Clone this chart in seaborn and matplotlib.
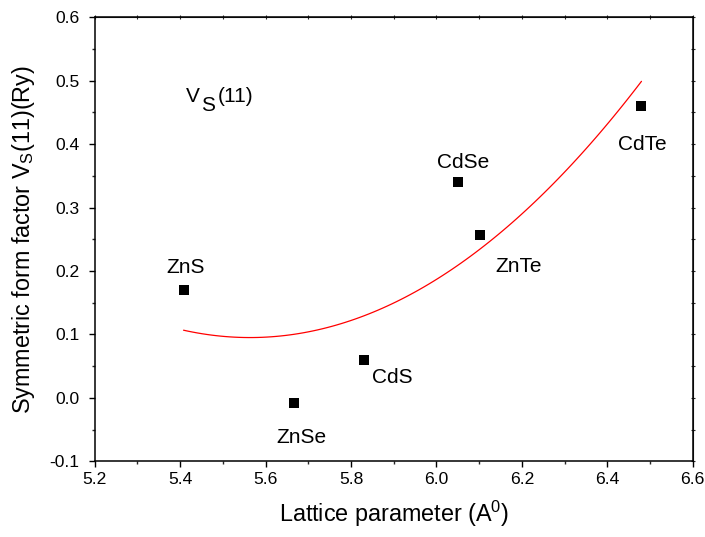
import matplotlib
matplotlib.use("Agg")
import matplotlib.pyplot as plt
from matplotlib.ticker import MultipleLocator
import numpy as np
import pandas as pd
import seaborn as sns

# Data
compounds = ["ZnS", "ZnSe", "CdS", "CdSe", "ZnTe", "CdTe"]
lattice = [5.408, 5.667, 5.831, 6.051, 6.103, 6.480]
vs11 = [0.1705, -0.0076, 0.060, 0.341, 0.256, 0.460]
# Label anchor positions (data coords) for each compound name
label_x = [5.413, 5.683, 5.849, 6.063, 6.193, 6.483]
label_y = [0.197, -0.071, 0.024, 0.362, 0.199, 0.390]
label_ha = ["center", "center", "left", "center", "center", "center"]

df = pd.DataFrame({"compound": compounds, "a": lattice, "vs": vs11})

sns.set_style("ticks")
plt.rcParams["font.family"] = ["Liberation Sans", "DejaVu Sans"]
plt.rcParams["mathtext.fontset"] = "custom"
plt.rcParams["mathtext.rm"] = "Liberation Sans"
plt.rcParams["mathtext.it"] = "Liberation Sans:italic"
plt.rcParams["mathtext.default"] = "regular"

fig = plt.figure(figsize=(7.05, 5.37), dpi=100)
ax = fig.add_axes([0.1343, 0.1410, 0.8483, 0.8268])

# quadratic fit (red curve), limited to data range
sns.regplot(data=df, x="a", y="vs", order=2, ci=None, scatter=False,
            truncate=True, color="red", line_kws={"lw": 0.9}, ax=ax)
sns.scatterplot(data=df, x="a", y="vs", marker="s", s=52, color="black",
                edgecolor="black", linewidth=0, ax=ax, zorder=3)

for name, lx, ly, ha in zip(compounds, label_x, label_y, label_ha):
    ax.text(lx, ly, name, fontsize=15, ha=ha, va="baseline", color="black")

# "V_S(11)" panel label with full-size lowered S
vx, vy = 5.413, 0.467
ax.annotate("V", xy=(vx, vy), xycoords="data", fontsize=15,
            ha="left", va="baseline", color="black")
ax.annotate("S", xy=(vx, vy), xycoords="data", xytext=(11.2, -6.8),
            textcoords="offset points", fontsize=15, ha="left",
            va="baseline", color="black")
ax.annotate("(11)", xy=(vx, vy), xycoords="data", xytext=(22.8, 0),
            textcoords="offset points", fontsize=15, ha="left",
            va="baseline", color="black")

ax.set_xlim(5.2, 6.6)
ax.set_ylim(-0.1, 0.6)
ax.xaxis.set_minor_locator(MultipleLocator(0.1))
ax.yaxis.set_minor_locator(MultipleLocator(0.05))
ax.set_xticks(np.arange(5.2, 6.61, 0.2))
ax.set_xticklabels([f"{v:.1f}" for v in np.arange(5.2, 6.61, 0.2)])
ax.set_yticks(np.arange(-0.1, 0.61, 0.1))
ax.set_yticklabels([f"{v:.1f}" for v in np.arange(-0.1, 0.61, 0.1)])

for side in ["left", "right", "top", "bottom"]:
    ax.spines[side].set_visible(True)
    ax.spines[side].set_linewidth(1.1)
    ax.spines[side].set_color("black")

ax.tick_params(axis="both", which="major", direction="out", length=4.5,
               width=1.0, labelsize=12.6, color="black", labelcolor="black",
               top=False, right=False)
ax.tick_params(axis="both", which="minor", direction="out", length=2.5,
               width=1.0, top=False, right=False)
ax.tick_params(axis="x", which="major", pad=3)
ax.tick_params(axis="y", which="major", pad=6.5)

# small ticks on top and right sides
secx = ax.secondary_xaxis("top")
secx.set_xticks(np.arange(5.2, 6.61, 0.1))
secx.tick_params(direction="inout", length=2.5, width=0.8, labeltop=False)
secx.set_xticklabels([])
secy = ax.secondary_yaxis("right")
secy.set_yticks(np.arange(-0.1, 0.61, 0.05))
secy.tick_params(direction="inout", length=2.5, width=0.8, labelright=False)
secy.set_yticklabels([])

ax.set_xlabel(r"Lattice parameter (A$^\mathregular{0}$)", fontsize=16.8,
              labelpad=9, color="black")
ax.set_ylabel(r"Symmetric form factor V$_\mathregular{S}$(11)(Ry)",
              fontsize=16.8, labelpad=9, color="black")

fig.savefig("out.png", dpi=100)
